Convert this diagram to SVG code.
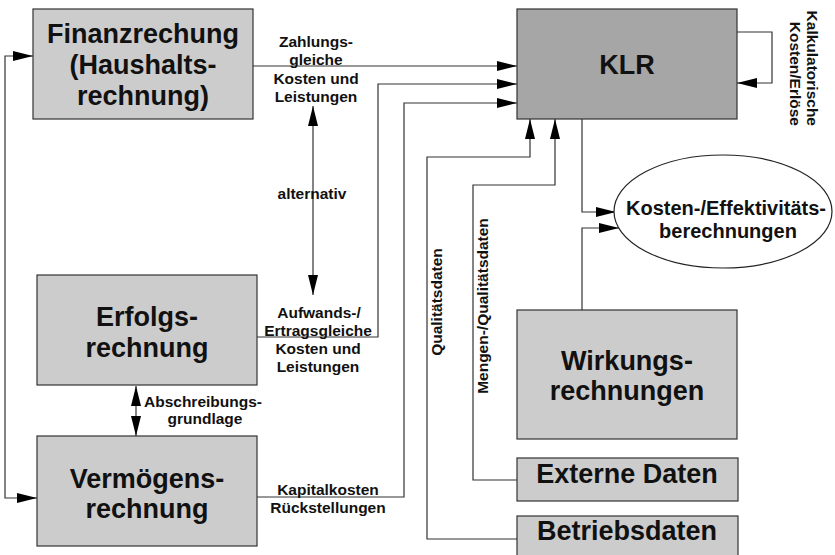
<svg xmlns="http://www.w3.org/2000/svg" width="835" height="555" viewBox="0 0 835 555">
  <style>
    .box { fill: #cccccc; stroke: #333333; stroke-width: 1.2; }
    .klr { fill: #a6a6a6; stroke: #333333; stroke-width: 1.2; }
    .ell { fill: #ffffff; stroke: #222222; stroke-width: 1.2; }
    .big { font-family: "Liberation Sans", Arial, sans-serif; font-weight: bold; font-size: 27px; fill: #111111; text-anchor: middle; }
    .mid { font-family: "Liberation Sans", Arial, sans-serif; font-weight: bold; font-size: 20px; fill: #111111; text-anchor: middle; }
    .lbl { font-family: "Liberation Sans", Arial, sans-serif; font-weight: bold; font-size: 15.5px; fill: #111111; text-anchor: middle; }
    .edge { fill: none; stroke: #333333; stroke-width: 1.2; }
  </style>
  <defs>
    <marker id="arrow" viewBox="0 0 20 10" refX="20" refY="5" markerWidth="20" markerHeight="10" markerUnits="userSpaceOnUse" orient="auto-start-reverse">
      <path d="M0,0 L20,5 L0,10 z" fill="#000000"/>
    </marker>
  </defs>

  <!-- connectors -->
  <g id="connectors">
    <path class="edge" d="M253,66 H517" marker-end="url(#arrow)"/>
    <path class="edge" d="M257,337 H378 V84 H517" marker-end="url(#arrow)"/>
    <path class="edge" d="M257,497 H404 V103 H517" marker-end="url(#arrow)"/>
    <path class="edge" d="M737,32 H772 V83 H737" marker-end="url(#arrow)"/>
    <path class="edge" d="M517,539 H427 V157 H530 V119" marker-end="url(#arrow)"/>
    <path class="edge" d="M517,480 H473 V185 H555 V119" marker-end="url(#arrow)"/>
    <path class="edge" d="M582,119 V212 H616" marker-end="url(#arrow)"/>
    <path class="edge" d="M582,310 V228 H619" marker-end="url(#arrow)"/>
    <path class="edge" d="M33,56 H5 V498 H37" marker-start="url(#arrow)" marker-end="url(#arrow)"/>
    <path class="edge" d="M313,106 V295" marker-start="url(#arrow)" marker-end="url(#arrow)"/>
    <path class="edge" d="M136,386 V436" marker-start="url(#arrow)" marker-end="url(#arrow)"/>

    <text class="lbl"><tspan x="316" y="47">Zahlungs-</tspan><tspan x="316" y="65">gleiche</tspan><tspan x="316" y="83.5">Kosten und</tspan><tspan x="316" y="102">Leistungen</tspan></text>
    <text class="lbl" x="312" y="199">alternativ</text>
    <text class="lbl"><tspan x="319" y="318">Aufwands-/</tspan><tspan x="318" y="336">Ertragsgleiche</tspan><tspan x="318" y="354">Kosten und</tspan><tspan x="318" y="372">Leistungen</tspan></text>
    <text class="lbl"><tspan x="203" y="407">Abschreibungs-</tspan><tspan x="205" y="424">grundlage</tspan></text>
    <text class="lbl"><tspan x="328" y="495">Kapitalkosten</tspan><tspan x="328" y="513">Rückstellungen</tspan></text>
    <text class="lbl" transform="translate(442,302) rotate(-90)" x="0" y="0">Qualitätsdaten</text>
    <text class="lbl" transform="translate(488,306) rotate(-90)" x="0" y="0">Mengen-/Qualitätsdaten</text>
    <text class="lbl" style="text-anchor:end" transform="translate(807,126) rotate(90)" x="0" y="0">Kalkulatorische</text>
    <text class="lbl" style="text-anchor:end" transform="translate(790,126) rotate(90)" x="0" y="0">Kosten/Erlöse</text>
  </g>

  <g id="finanzrechnung">
    <rect class="box" x="33" y="9" width="220" height="110"/>
    <text class="big"><tspan x="143" y="43">Finanzrechung</tspan><tspan x="143" y="74">(Haushalts-</tspan><tspan x="143" y="105">rechnung)</tspan></text>
  </g>

  <g id="klr">
    <rect class="klr" x="517" y="9" width="220" height="110"/>
    <text class="big" x="627" y="74">KLR</text>
  </g>

  <g id="erfolgsrechnung">
    <rect class="box" x="37" y="275" width="220" height="110"/>
    <text class="big"><tspan x="147" y="326">Erfolgs-</tspan><tspan x="147" y="357">rechnung</tspan></text>
  </g>

  <g id="vermoegensrechnung">
    <rect class="box" x="37" y="436" width="220" height="110"/>
    <text class="big"><tspan x="147" y="488">Vermögens-</tspan><tspan x="147" y="518">rechnung</tspan></text>
  </g>

  <g id="kosten-effektivitaet">
    <ellipse class="ell" cx="723" cy="211.5" rx="109" ry="56.5"/>
    <text class="mid"><tspan x="726" y="215">Kosten-/Effektivitäts-</tspan><tspan x="728" y="238">berechnungen</tspan></text>
  </g>

  <g id="wirkungsrechnungen">
    <rect class="box" x="517" y="310" width="220" height="129"/>
    <text class="big"><tspan x="627" y="370">Wirkungs-</tspan><tspan x="627" y="400">rechnungen</tspan></text>
  </g>

  <g id="externe-daten">
    <rect class="box" x="517" y="458" width="221" height="43"/>
    <text class="big" x="627" y="483">Externe Daten</text>
  </g>

  <g id="betriebsdaten">
    <rect class="box" x="517" y="516" width="221" height="45"/>
    <text class="big" x="627" y="540">Betriebsdaten</text>
  </g>
</svg>
